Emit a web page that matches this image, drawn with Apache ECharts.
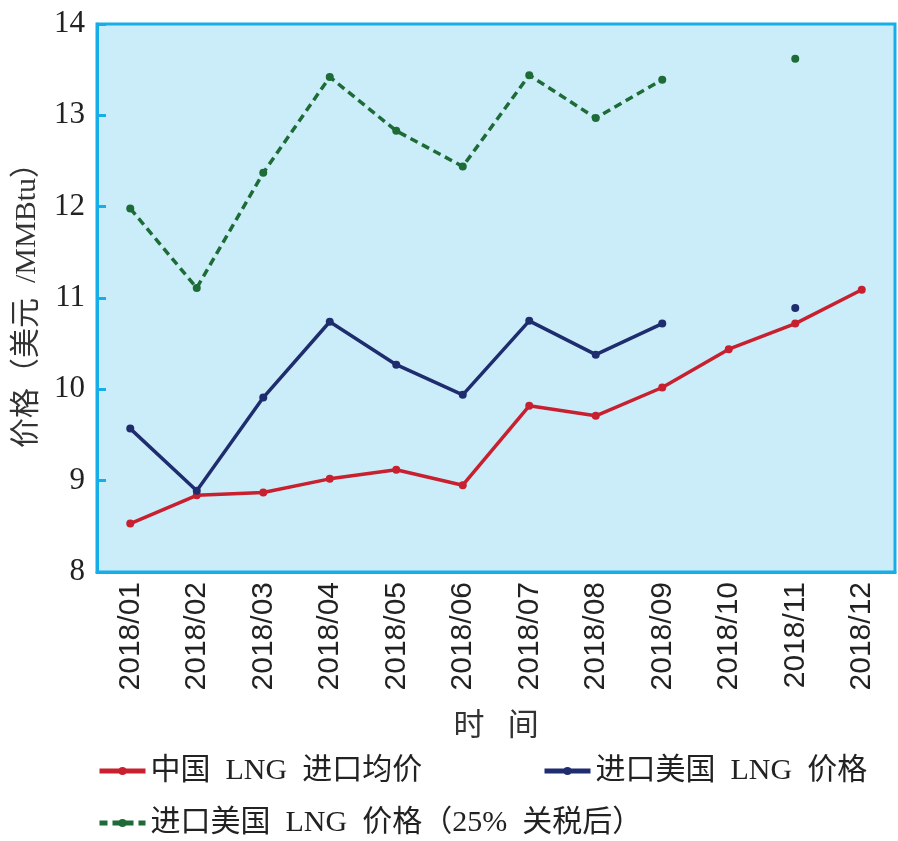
<!DOCTYPE html>
<html>
<head>
<meta charset="utf-8">
<script src="https://cdn.jsdelivr.net/npm/echarts@6/dist/echarts.min.js"></script>
<style>
	html, body { margin: 0; padding: 0; background: #fff; }
	#main { width: 898px; height: 841px; }
</style>
</head>
<body>
<div id="main"></div>
<script>
var months = ['2018/01', '2018/02', '2018/03', '2018/04', '2018/05', '2018/06',
	'2018/07', '2018/08', '2018/09', '2018/10', '2018/11', '2018/12'];
var chinaAvg = [8.53, 8.84, 8.87, 9.02, 9.12, 8.95, 9.82, 9.71, 10.02, 10.44, 10.72, 11.09];
var usPrice = [9.57, 8.89, 9.91, 10.74, 10.27, 9.94, 10.75, 10.38, 10.72, null, 10.89, null];
var usTariff = [11.98, 11.11, 12.37, 13.42, 12.83, 12.44, 13.44, 12.97, 13.39, null, 13.62, null];
var names = ['中国  LNG  进口均价', '进口美国  LNG  价格', '进口美国  LNG  价格（25%  关税后）'];

var axisBlue = '#16aee8';
var serif = '"Liberation Serif", "Noto Sans CJK SC", serif';

var myChart = echarts.init(document.getElementById('main'));

function lineSeries(name, data, color, dashed) {
	return {
		type: 'line',
		name: name,
		data: data,
		symbol: 'circle',
		symbolSize: 8,
		showAllSymbol: true,
		connectNulls: false,
		itemStyle: { color: color },
		lineStyle: { color: color, width: 3.5, type: dashed ? [8, 5] : 'solid' },
		emphasis: { disabled: true }
	};
}

function legendAt(left, top, name) {
	return {
		left: left,
		top: top,
		data: [name],
		itemWidth: 46,
		itemHeight: 10,
		itemGap: 8,
		lineStyle: { width: 5 },
		textStyle: { color: '#222', fontSize: 30, fontFamily: serif }
	};
}

var option = {
	backgroundColor: '#fff',
	animation: false,
	grid: {
		left: 97,
		right: 3,
		top: 24,
		bottom: 269,
		outerBoundsMode: 'none',
		show: true,
		backgroundColor: '#cbedf9',
		borderColor: axisBlue,
		borderWidth: 3
	},
	legend: [
		legendAt(92, 751, names[0]),
		legendAt(537, 751, names[1]),
		legendAt(92, 803, names[2])
	],
	xAxis: {
		type: 'category',
		data: months,
		boundaryGap: true,
		name: '时   间',
		nameLocation: 'middle',
		nameGap: 139,
		nameTextStyle: { color: '#333', fontSize: 31, fontFamily: serif },
		axisLine: { lineStyle: { color: axisBlue, width: 3 } },
		axisTick: { inside: true, length: 8, lineStyle: { color: axisBlue, width: 2 } },
		axisLabel: {
			rotate: 90,
			margin: 10,
			color: '#222',
			fontSize: 30,
			fontFamily: '"Liberation Sans", sans-serif'
		},
		splitLine: { show: false }
	},
	yAxis: {
		type: 'value',
		min: 8,
		max: 14,
		interval: 1,
		name: '价格（美元  /MMBtu）',
		nameLocation: 'middle',
		nameGap: 55,
		nameTextStyle: { color: '#333', fontSize: 30, fontFamily: serif },
		axisLine: { show: true, lineStyle: { color: axisBlue, width: 3 } },
		axisTick: { show: true, inside: true, length: 9, lineStyle: { color: axisBlue, width: 3 } },
		axisLabel: { color: '#222', fontSize: 31, margin: 12, fontFamily: serif },
		splitLine: { show: false }
	},
	series: [
		lineSeries(names[0], chinaAvg, '#c8202f', false),
		lineSeries(names[1], usPrice, '#1f2d6e', false),
		lineSeries(names[2], usTariff, '#1d6b36', true)
	]
};

myChart.setOption(option);
</script>
</body>
</html>
